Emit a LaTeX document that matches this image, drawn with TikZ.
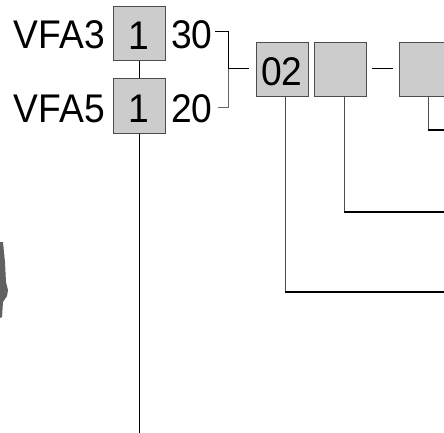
\documentclass[tikz,border=0pt]{standalone}
\usepackage{fontspec}
\setmainfont{Liberation Sans}[FakeStretch=0.93]
\begin{document}
\begin{tikzpicture}[x=1pt,y=-1pt,
  cell/.style={draw=black!70,fill=black!20,line width=1pt,minimum width=52pt,minimum height=54pt,inner sep=0pt,text height=32pt,text depth=0pt,font=\fontsize{40}{44}\selectfont},
  lbl/.style={inner sep=0pt,font=\fontsize{40}{44}\selectfont},
  wire/.style={line width=1pt,black},
  bus/.style={line width=2pt,black}]
\useasboundingbox (0,0) rectangle (444,433);
\clip (0,0) rectangle (444,433);
% left boxes
\node[cell] (b1) at (139,33.5) {1};
\node[cell] (b2) at (139,106) {1};
\node[lbl,anchor=base east] (v3) at (105,49) {VFA3};
\node[lbl,anchor=base east] (v5) at (105,122) {VFA5};
\node[lbl,anchor=base west] (n30) at (171,49) {30};
\node[lbl,anchor=base west] (n20) at (171,122) {20};
% right boxes
\node[cell] (c1) at (282,70) {02};
\node[cell] (c2) at (340.5,70) {};
\node[cell,minimum width=56pt] (c3) at (427,70) {};
% coordinates
\coordinate (bot) at (139,433);
\coordinate (t1) at (215,32);
\coordinate (t2) at (218,108);
\coordinate (tm) at (228,69);
\coordinate (tr) at (249,69);
\coordinate (d1) at (372,69);
\coordinate (d2) at (393,69);
\coordinate (e3) at (446,130);
\coordinate (e2) at (446,212);
\coordinate (e1) at (446,292);
% lines
\draw[wire] (b1.south) -- (b2.north);
\draw[wire] (b2.south) -- (bot);
\draw[wire] (t1) -| (tm);
\draw[wire,black!60] (t2) -| (tm);
\draw[wire] (tm) -- (tr);
\draw[wire] (d1) -- (d2);
\draw[wire,black!70] (c3.south -| 428,0) |- (e3);
\draw[bus] (428,130) -- (e3);
\draw[wire,black!70] (c2.south -| 344,0) |- (e2);
\draw[bus] (344,212) -- (e2);
\draw[wire,black!70] (c1.south -| 285,0) |- (e1);
\draw[bus] (285,292) -- (e1);
% cut-off grey shape at left edge
\fill[black!62] (0,242) -- (3,242) -- (5,262) -- (6,282) -- (8,290) -- (7,296) -- (3,302) -- (2,317) -- (0,318) -- cycle;
\end{tikzpicture}
\end{document}
